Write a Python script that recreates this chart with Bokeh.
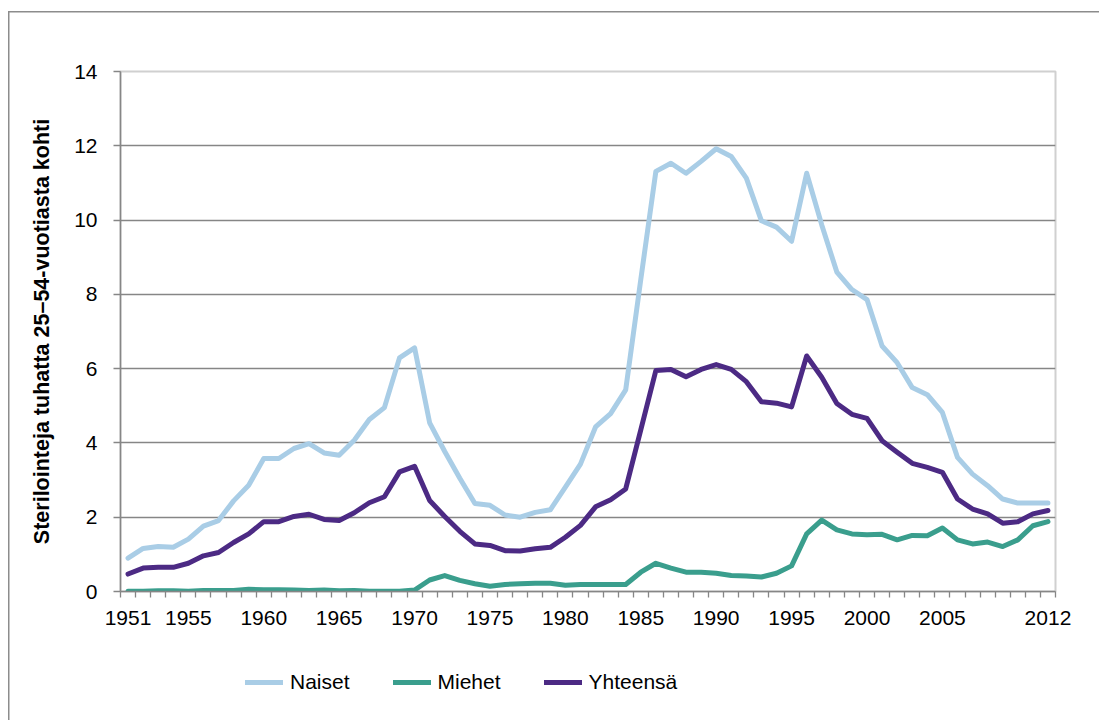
from bokeh.plotting import figure
from bokeh.layouts import column
from bokeh.models import FixedTicker, Range1d, Legend, LegendItem, ColumnDataSource
from bokeh.embed import file_html
from bokeh.resources import INLINE

years = list(range(1951, 2013))

naiset = [0.90, 1.16, 1.21, 1.19, 1.41, 1.76, 1.91, 2.44, 2.86, 3.58,
          3.58, 3.85, 3.98, 3.73, 3.67, 4.07, 4.63, 4.95, 6.29, 6.56,
          4.54, 3.77, 3.05, 2.37, 2.32, 2.06, 2.00, 2.13, 2.20, 2.81,
          3.43, 4.43, 4.79, 5.43, 8.40, 11.31, 11.53, 11.26, 11.58, 11.92,
          11.71, 11.13, 9.98, 9.81, 9.43, 11.26, 9.87, 8.60, 8.13, 7.86,
          6.61, 6.16, 5.49, 5.30, 4.82, 3.61, 3.16, 2.85, 2.49, 2.38,
          2.38, 2.38]

miehet = [0.01, 0.01, 0.02, 0.02, 0.01, 0.03, 0.03, 0.03, 0.06, 0.05,
          0.05, 0.04, 0.03, 0.04, 0.02, 0.03, 0.01, 0.01, 0.01, 0.04,
          0.31, 0.43, 0.30, 0.21, 0.14, 0.19, 0.21, 0.22, 0.22, 0.17,
          0.19, 0.19, 0.19, 0.19, 0.52, 0.76, 0.63, 0.52, 0.52, 0.49,
          0.43, 0.42, 0.39, 0.49, 0.69, 1.55, 1.92, 1.66, 1.55, 1.53,
          1.54, 1.39, 1.51, 1.50, 1.71, 1.39, 1.28, 1.33, 1.21, 1.39,
          1.77, 1.88]

yhteensa = [0.47, 0.63, 0.65, 0.65, 0.76, 0.96, 1.05, 1.32, 1.55, 1.88,
            1.88, 2.02, 2.08, 1.94, 1.91, 2.12, 2.39, 2.55, 3.22, 3.37,
            2.45, 2.02, 1.62, 1.28, 1.24, 1.10, 1.09, 1.15, 1.19, 1.46,
            1.78, 2.28, 2.47, 2.76, 4.35, 5.95, 5.98, 5.78, 5.98, 6.11,
            5.98, 5.65, 5.11, 5.07, 4.97, 6.34, 5.77, 5.06, 4.77, 4.66,
            4.06, 3.75, 3.45, 3.34, 3.21, 2.49, 2.22, 2.09, 1.84, 1.88,
            2.09, 2.18]

x_tick_years = [1951, 1955, 1960, 1965, 1970, 1975, 1980, 1985, 1990, 1995, 2000, 2005, 2012]
y_ticks = [0, 2, 4, 6, 8, 10, 12, 14]
series_names = ["Naiset", "Miehet", "Yhteensä"]
series_colors = ["#a9cde6", "#3a9e8d", "#4c2a84"]
y_title = "Sterilointeja tuhatta 25–54-vuotiasta kohti"

FONT = "Liberation Sans"
GRAY = "#868686"

source = ColumnDataSource(dict(year=years, naiset=naiset, miehet=miehet, yhteensa=yhteensa))
cols = ["naiset", "miehet", "yhteensa"]

# ---------------- main chart ----------------
p = figure(width=1099, height=645, output_backend="svg", toolbar_location=None,
           x_range=Range1d(years[0] - 0.5, years[-1] + 0.5),
           y_range=Range1d(0, 14),
           min_border_left=120, min_border_right=44, min_border_top=71, min_border_bottom=54)

p.background_fill_color = "white"
p.border_fill_alpha = 0
p.outline_line_color = "#d0d0d0"
p.outline_line_width = 2

p.xgrid.grid_line_color = None
p.ygrid.grid_line_color = GRAY
p.ygrid.grid_line_width = 1.3

minor = [y - 0.5 for y in years] + [years[-1] + 0.5]
p.xaxis.ticker = FixedTicker(ticks=x_tick_years, minor_ticks=minor)
p.xaxis.major_tick_line_color = None
p.xaxis.minor_tick_line_color = GRAY
p.xaxis.minor_tick_line_width = 1.3
p.xaxis.minor_tick_in = 0
p.xaxis.minor_tick_out = 6
p.xaxis.axis_line_color = GRAY
p.xaxis.axis_line_width = 1.5
p.xaxis.major_label_text_font = FONT
p.xaxis.major_label_text_font_size = "21px"
p.xaxis.major_label_text_color = "black"
p.xaxis.major_label_standoff = 13

p.yaxis.ticker = FixedTicker(ticks=y_ticks, minor_ticks=[])
p.yaxis.major_tick_line_color = GRAY
p.yaxis.major_tick_line_width = 1.3
p.yaxis.major_tick_in = 0
p.yaxis.major_tick_out = 7
p.yaxis.axis_line_color = GRAY
p.yaxis.axis_line_width = 1.5
p.yaxis.major_label_text_font = FONT
p.yaxis.major_label_text_font_size = "21px"
p.yaxis.major_label_text_color = "black"
p.yaxis.major_label_standoff = 16
p.yaxis.axis_label = y_title
p.yaxis.axis_label_text_font = FONT
p.yaxis.axis_label_text_font_size = "21.5px"
p.yaxis.axis_label_text_font_style = "bold"
p.yaxis.axis_label_text_color = "black"
p.yaxis.axis_label_standoff = 17

for col, color in zip(cols, series_colors):
    p.line("year", col, source=source, line_color=color, line_width=5,
           line_join="round", line_cap="round")

# ---------------- legend strip ----------------
lg = figure(width=1099, height=75, output_backend="svg", toolbar_location=None,
            x_range=Range1d(0, 1), y_range=Range1d(100, 101),
            x_axis_location=None, y_axis_location=None,
            min_border_left=0, min_border_right=0, min_border_top=0, min_border_bottom=0)
lg.outline_line_color = None
lg.background_fill_alpha = 0
lg.border_fill_alpha = 0
lg.xgrid.grid_line_color = None
lg.ygrid.grid_line_color = None

legend_renderers = []
for col, color in zip(cols, series_colors):
    r = lg.line("year", col, source=source, line_color=color, line_width=5,
                line_join="round", line_cap="round")
    legend_renderers.append(r)

legend = Legend(items=[LegendItem(label=n, renderers=[r]) for n, r in zip(series_names, legend_renderers)],
                location=(125, 26), orientation="horizontal")
legend.label_text_font = FONT
legend.label_text_font_size = "21px"
legend.label_text_color = "black"
legend.glyph_width = 38
legend.glyph_height = 20
legend.label_standoff = 7
legend.spacing = 43
legend.padding = 0
legend.margin = 0
legend.border_line_color = None
legend.background_fill_alpha = 0
lg.add_layout(legend, "center")

layout = column(p, lg, spacing=0)
layout.styles = {
    "background-color": "white",
    "background-image": "linear-gradient(#8c8c8c, #8c8c8c), linear-gradient(#8c8c8c, #8c8c8c)",
    "background-size": "1.5px 100%, 100% 1.5px",
    "background-position": "8px 11px, 8px 11px",
    "background-repeat": "no-repeat",
}

open("out.html", "w").write(file_html(layout, INLINE))
